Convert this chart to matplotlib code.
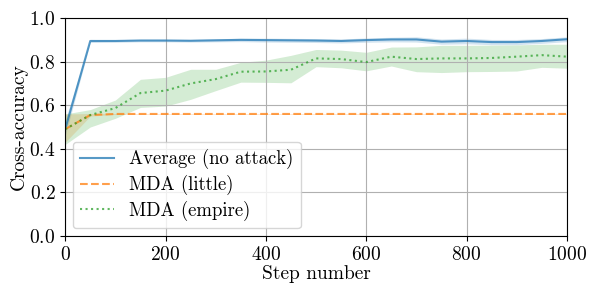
import numpy as np
from matplotlib import pyplot as plt

plt.rcParams['font.family'] = ['cmr10', 'DejaVu Serif']
plt.rcParams['mathtext.fontset'] = 'cm'
plt.rcParams['axes.formatter.use_mathtext'] = True
plt.rcParams['font.size'] = 14

steps = np.arange(0, 1001, 50)

avg_mean = [0.49, 0.895, 0.895, 0.897, 0.897, 0.896, 0.898, 0.900, 0.899, 0.898, 0.897,
            0.895, 0.899, 0.902, 0.902, 0.892, 0.895, 0.890, 0.890, 0.895, 0.903]
avg_lo = [0.46, 0.888, 0.889, 0.891, 0.891, 0.890, 0.891, 0.892, 0.890, 0.889, 0.888,
          0.886, 0.889, 0.891, 0.890, 0.880, 0.882, 0.878, 0.878, 0.884, 0.892]
avg_hi = [0.53, 0.902, 0.901, 0.903, 0.903, 0.902, 0.905, 0.908, 0.908, 0.907, 0.906,
          0.904, 0.909, 0.912, 0.914, 0.904, 0.908, 0.902, 0.902, 0.906, 0.914]

little_mean = [0.49, 0.555] + [0.56] * 19
little_lo = [0.43, 0.550] + [0.558] * 19
little_hi = [0.56, 0.562] + [0.562] * 19

empire_mean = [0.49, 0.555, 0.587, 0.656, 0.667, 0.70, 0.72, 0.754, 0.755, 0.763, 0.815,
               0.812, 0.798, 0.823, 0.812, 0.815, 0.815, 0.817, 0.823, 0.83, 0.823]
empire_lo = [0.42, 0.50, 0.54, 0.59, 0.596, 0.627, 0.667, 0.706, 0.705, 0.703, 0.777,
             0.772, 0.758, 0.78, 0.754, 0.75, 0.754, 0.755, 0.757, 0.774, 0.77]
empire_hi = [0.56, 0.58, 0.624, 0.719, 0.728, 0.765, 0.765, 0.797, 0.807, 0.829, 0.856,
             0.853, 0.843, 0.867, 0.868, 0.875, 0.875, 0.876, 0.877, 0.88, 0.88]

fig = plt.figure(figsize=(5.98, 2.92), dpi=100)
ax = fig.add_axes([0.109, 0.192, 0.839, 0.746])

ax.plot(steps, avg_mean, color='C0', linestyle='-', alpha=0.75, label='Average (no attack)')
ax.fill_between(steps, avg_lo, avg_hi, color='C0', alpha=0.2, linewidth=0)
ax.plot(steps, little_mean, color='C1', linestyle='--', alpha=0.75, label='MDA (little)')
ax.fill_between(steps, little_lo, little_hi, color='C1', alpha=0.2, linewidth=0)
ax.plot(steps, empire_mean, color='C2', linestyle=':', alpha=0.75, label='MDA (empire)')
ax.fill_between(steps, empire_lo, empire_hi, color='C2', alpha=0.2, linewidth=0)

ax.set_xlim(0, 1000)
ax.set_ylim(0, 1)
ax.set_xlabel('Step number', labelpad=1)
ax.set_ylabel('Cross-accuracy', labelpad=1)
ax.grid(True)
ax.legend(loc='lower left', fontsize=13.5, handlelength=1.8, labelspacing=0.3,
          borderaxespad=0.4)

fig.savefig('out.png', dpi=100)
